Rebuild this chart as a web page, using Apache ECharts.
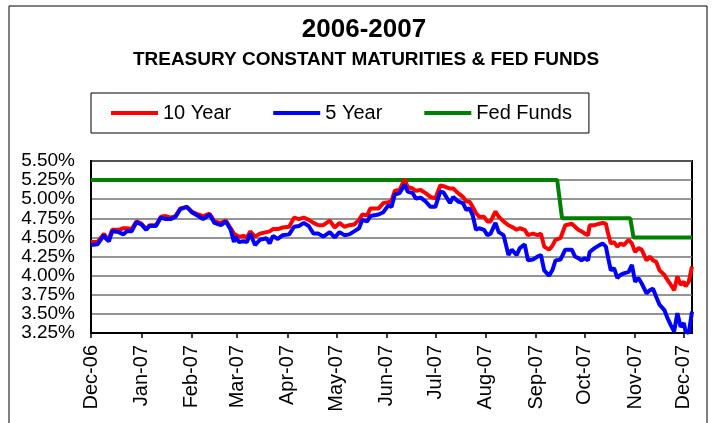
<!DOCTYPE html>
<html lang="en">
<head>
  <meta charset="utf-8">
  <title>2006-2007 Treasury Constant Maturities &amp; Fed Funds</title>
  <script type="text/javascript" src="https://fastly.jsdelivr.net/npm/echarts@6/dist/echarts.min.js"></script>
  <style type="text/css">
    * {
      margin: 0;
      padding: 0;
    }
    html, body, #chart {
      width: 100%;
      height: 100%;
      overflow: hidden;
      background: #fff;
    }
  </style>
</head>
<body>
  <div id="chart"></div>
  <script type="text/javascript">
    var dates = [
      '2006-12-01', '2006-12-05', '2006-12-09', '2006-12-10', '2006-12-12', '2006-12-14', '2006-12-18', '2006-12-21', '2006-12-23', '2006-12-26', '2006-12-29',
      '2007-01-01', '2007-01-04', '2007-01-06', '2007-01-10', '2007-01-13', '2007-01-16', '2007-01-19', '2007-01-22', '2007-01-25', '2007-01-29',
      '2007-02-01', '2007-02-05', '2007-02-08', '2007-02-12', '2007-02-15', '2007-02-19', '2007-02-22', '2007-02-25', '2007-02-27', '2007-02-28',
      '2007-03-02', '2007-03-05', '2007-03-07', '2007-03-09', '2007-03-12', '2007-03-15', '2007-03-19', '2007-03-21', '2007-03-23', '2007-03-26', '2007-03-29',
      '2007-04-02', '2007-04-05', '2007-04-08', '2007-04-11', '2007-04-14', '2007-04-17', '2007-04-20', '2007-04-23', '2007-04-27', '2007-04-30',
      '2007-05-03', '2007-05-06', '2007-05-09', '2007-05-12', '2007-05-15', '2007-05-17', '2007-05-20', '2007-05-22', '2007-05-27', '2007-05-30',
      '2007-06-02', '2007-06-04', '2007-06-06', '2007-06-09', '2007-06-12', '2007-06-14', '2007-06-17', '2007-06-19', '2007-06-22', '2007-06-25', '2007-06-28',
      '2007-07-01', '2007-07-04', '2007-07-06', '2007-07-10', '2007-07-12', '2007-07-15', '2007-07-18', '2007-07-20', '2007-07-22', '2007-07-24', '2007-07-26', '2007-07-28', '2007-07-31',
      '2007-08-02', '2007-08-04', '2007-08-07', '2007-08-09', '2007-08-12', '2007-08-15', '2007-08-17', '2007-08-20', '2007-08-22', '2007-08-25', '2007-08-27', '2007-08-30',
      '2007-09-02', '2007-09-04', '2007-09-06', '2007-09-09', '2007-09-11', '2007-09-13', '2007-09-16', '2007-09-19', '2007-09-23', '2007-09-25', '2007-09-27', '2007-09-29',
      '2007-10-01', '2007-10-03', '2007-10-04', '2007-10-07', '2007-10-10', '2007-10-12', '2007-10-14', '2007-10-15', '2007-10-17', '2007-10-19', '2007-10-21', '2007-10-23', '2007-10-25', '2007-10-28', '2007-10-30',
      '2007-11-01', '2007-11-03', '2007-11-05', '2007-11-08', '2007-11-10', '2007-11-12', '2007-11-14', '2007-11-16', '2007-11-19', '2007-11-21', '2007-11-23', '2007-11-25', '2007-11-27', '2007-11-29',
      '2007-12-01', '2007-12-02', '2007-12-04', '2007-12-06'
    ];
    var tenYear = [
      4.44, 4.44, 4.55, 4.51, 4.48, 4.60, 4.60, 4.62, 4.62, 4.61, 4.71,
      4.68, 4.61, 4.66, 4.66, 4.77, 4.78, 4.76, 4.78, 4.88, 4.90,
      4.84, 4.80, 4.78, 4.81, 4.71, 4.69, 4.72, 4.62, 4.55, 4.53,
      4.51, 4.52, 4.50, 4.58, 4.51, 4.55, 4.57, 4.58, 4.61, 4.61, 4.63,
      4.64, 4.76, 4.74, 4.76, 4.73, 4.69, 4.66, 4.66, 4.72, 4.63,
      4.69, 4.64, 4.66, 4.67, 4.73, 4.80, 4.79, 4.88, 4.88, 4.95,
      4.96, 4.98, 5.11, 5.12, 5.26, 5.16, 5.14, 5.11, 5.12, 5.08, 5.03,
      5.01, 5.18, 5.17, 5.14, 5.14, 5.08, 5.03, 4.97, 4.97, 4.90, 4.82, 4.77, 4.77,
      4.71, 4.71, 4.84, 4.77, 4.71, 4.66, 4.64, 4.60, 4.62, 4.60, 4.53, 4.55,
      4.53, 4.55, 4.38, 4.34, 4.39, 4.47, 4.49, 4.66, 4.68, 4.64, 4.60, 4.58,
      4.55, 4.53, 4.66, 4.66, 4.68, 4.69, 4.68, 4.58, 4.42, 4.44, 4.38, 4.42, 4.40, 4.47, 4.42,
      4.31, 4.36, 4.34, 4.20, 4.25, 4.20, 4.18, 4.07, 4.01, 3.94, 3.88, 3.81, 3.99, 3.88,
      3.92, 3.86, 3.92, 4.12
    ];
    var fiveYear = [
      4.40, 4.41, 4.53, 4.49, 4.45, 4.58, 4.57, 4.54, 4.58, 4.58, 4.70,
      4.67, 4.60, 4.65, 4.65, 4.76, 4.74, 4.74, 4.77, 4.87, 4.90,
      4.83, 4.78, 4.74, 4.80, 4.69, 4.66, 4.71, 4.60, 4.44, 4.51,
      4.44, 4.45, 4.44, 4.55, 4.40, 4.47, 4.49, 4.42, 4.52, 4.48, 4.53,
      4.54, 4.64, 4.65, 4.69, 4.65, 4.55, 4.55, 4.51, 4.57, 4.50,
      4.57, 4.53, 4.54, 4.58, 4.62, 4.73, 4.71, 4.78, 4.80, 4.83,
      4.92, 4.90, 5.06, 5.08, 5.19, 5.10, 5.08, 5.01, 5.02, 4.97, 4.90,
      4.90, 5.10, 5.09, 4.95, 5.03, 4.97, 4.95, 4.86, 4.88, 4.79, 4.60, 4.62, 4.60,
      4.53, 4.55, 4.69, 4.57, 4.53, 4.27, 4.34, 4.27, 4.36, 4.41, 4.20, 4.21,
      4.25, 4.27, 4.07, 4.00, 4.07, 4.20, 4.21, 4.34, 4.34, 4.25, 4.23, 4.20,
      4.23, 4.20, 4.31, 4.36, 4.40, 4.42, 4.38, 4.27, 4.07, 4.10, 3.97, 4.01, 4.03, 4.05, 4.14,
      3.92, 3.97, 3.90, 3.77, 3.81, 3.83, 3.72, 3.62, 3.55, 3.44, 3.35, 3.27, 3.51, 3.33,
      3.38, 3.27, 3.25, 3.53
    ];
    // fed funds target, steps
    var fedDates = ['2006-12-01', '2007-09-14', '2007-09-17', '2007-10-29', '2007-10-31', '2007-12-06'];
    var fedFunds = [5.25, 5.25, 4.75, 4.75, 4.50, 4.50];

    var monthNames = ['Jan', 'Feb', 'Mar', 'Apr', 'May', 'Jun', 'Jul', 'Aug', 'Sep', 'Oct', 'Nov', 'Dec'];
    var font = '"Liberation Sans", Arial, sans-serif';
    var DAY = 24 * 3600 * 1000;

    function pairs(xs, ys) {
      return xs.map(function (d, i) { return [d, ys[i]]; });
    }

    var option = {
      backgroundColor: '#fff',
      animation: false,
      title: [{
        text: '2006-2007',
        left: 364,
        top: 17,
        padding: 0,
        textAlign: 'center',
        textStyle: { fontFamily: font, fontSize: 26, fontWeight: 'bold', color: '#000' }
      }, {
        text: 'TREASURY CONSTANT MATURITIES & FED FUNDS',
        left: 366,
        top: 50,
        padding: 0,
        textAlign: 'center',
        textStyle: { fontFamily: font, fontSize: 19, fontWeight: 'bold', color: '#000' }
      }],
      legend: {
        left: 91,
        top: 93,
        padding: [10, 17, 10, 20],
        itemGap: 42,
        itemWidth: 47,
        itemHeight: 4,
        icon: 'rect',
        borderColor: '#000',
        borderWidth: 1,
        textStyle: { fontFamily: font, fontSize: 20, color: '#000', lineHeight: 20 },
        data: ['10 Year', '5 Year', 'Fed Funds']
      },
      graphic: [{
        type: 'rect',
        silent: true,
        shape: { x: 9, y: 6, width: 698, height: 440 },
        style: { fill: 'none', stroke: '#000', lineWidth: 1 }
      }],
      grid: {
        left: 91,
        right: 21,
        top: 161,
        bottom: 90,
        show: true,
        borderColor: '#000',
        borderWidth: 2
      },
      xAxis: {
        type: 'time',
        min: '2006-12-01',
        max: '2007-12-06',
        minInterval: 28 * DAY,
        maxInterval: 31 * DAY,
        axisLine: { lineStyle: { color: '#000', width: 2 } },
        axisTick: { show: true, length: 5, lineStyle: { color: '#000', width: 1.5 } },
        splitLine: { show: false },
        minorTick: { show: false },
        axisLabel: {
          rotate: 90,
          margin: 12,
          fontFamily: font,
          fontSize: 20,
          color: '#000',
          hideOverlap: false,
          formatter: function (val) {
            var d = new Date(val);
            return monthNames[d.getMonth()] + '-' + String(d.getFullYear()).slice(2);
          }
        }
      },
      yAxis: {
        type: 'value',
        min: 3.25,
        max: 5.5,
        interval: 0.25,
        axisLine: { show: true, lineStyle: { color: '#000', width: 2 } },
        axisTick: { show: false },
        splitLine: { lineStyle: { color: '#707070', width: 1.5 } },
        axisLabel: {
          margin: 16,
          fontFamily: font,
          fontSize: 19,
          color: '#000',
          formatter: function (v) { return v.toFixed(2) + '%'; }
        }
      },
      series: [{
        name: '10 Year',
        type: 'line',
        z: 3,
        symbol: 'none',
        color: '#ff0000',
        lineStyle: { width: 4, color: '#ff0000' },
        data: pairs(dates, tenYear)
      }, {
        name: '5 Year',
        type: 'line',
        z: 4,
        symbol: 'none',
        color: '#0000ff',
        lineStyle: { width: 4, color: '#0000ff' },
        data: pairs(dates, fiveYear)
      }, {
        name: 'Fed Funds',
        type: 'line',
        z: 2,
        symbol: 'none',
        color: '#008000',
        lineStyle: { width: 4, color: '#008000' },
        data: pairs(fedDates, fedFunds)
      }]
    };

    var chart = echarts.init(document.getElementById('chart'));
    chart.setOption(option);
  </script>
</body>
</html>
